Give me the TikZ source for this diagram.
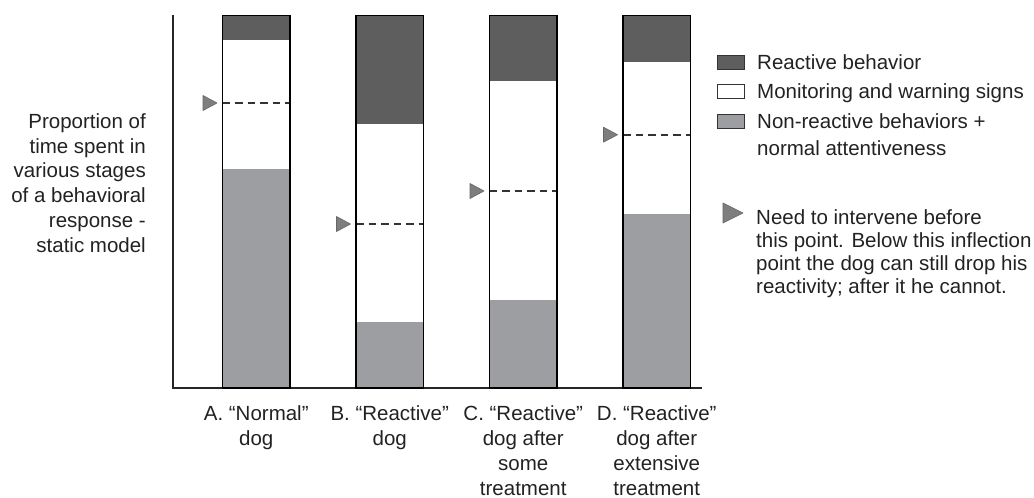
\documentclass[tikz,border=0pt]{standalone}
\usepackage{fontspec}
\setmainfont{Liberation Sans}
\definecolor{darkg}{HTML}{5E5E5E}
\definecolor{lightg}{HTML}{9C9EA2}
\definecolor{trig}{HTML}{7E7E7E}
\definecolor{txt}{HTML}{222222}
\begin{document}
\begin{tikzpicture}[x=1pt,y=-1pt,
  barline/.style={draw=black,line width=1.6pt},
  axisline/.style={draw=black!85,line width=1.5pt},
  dashline/.style={draw=black!80,line width=2.4pt,dash pattern=on 7.5pt off 5pt},
  tri/.style={fill=trig,draw=black!60,line width=0.6pt,line join=round},
  lab/.style={font=\fontsize{20.5}{25}\selectfont,text=txt,inner sep=0pt},
  keybox/.style={line width=1pt,draw=black!80}]
\useasboundingbox (0,0) rectangle (1034,498);
% axes
\draw[axisline] (173,15) -- (173,388) -- (702,388);
% bars
\foreach \xl/\r/\w/\d in {222.5/40/169/103, 356/124.3/321.7/224, 489.5/81/300/191, 623/62.3/214.3/134.7} {
  \fill[darkg] (\xl,15.5) rectangle (\xl+67.5,\r);
  \fill[lightg] (\xl,\w) rectangle (\xl+67.5,388);
  \draw[dashline] (\xl,\d) -- (\xl+67.5,\d);
  \draw[barline] (\xl,15.5) rectangle (\xl+67.5,388);
  \filldraw[tri] (\xl-19.5,\d-7.5) -- (\xl-5.5,\d) -- (\xl-19.5,\d+7.5) -- cycle;
}
% y label
\node[lab,align=right,anchor=north east,font=\fontsize{20.5}{24.8}\selectfont] (ylab) at (146,113.2)
  {Proportion of\\time spent in\\various stages\\of a behavioral\\response -\\static model};
% bar labels
\node[lab,align=center,anchor=north] (la) at (256.25,405.2) {A. “Normal”\\dog};
\node[lab,align=center,anchor=north] (lb) at (389.75,405.2) {B. “Reactive”\\dog};
\node[lab,align=center,anchor=north] (lc) at (523.25,405.2) {C. “Reactive”\\dog after\\some\\treatment};
\node[lab,align=center,anchor=north] (ld) at (656.75,405.2) {D. “Reactive”\\dog after\\extensive\\treatment};
% legend
\filldraw[keybox,fill=darkg] (717.5,55) rectangle (744.5,69);
\filldraw[keybox,fill=white] (717.5,84.5) rectangle (744.5,98.5);
\filldraw[keybox,fill=lightg] (717.5,114) rectangle (744.5,128);
\node[lab,anchor=base west] (k1) at (757,69) {Reactive behavior};
\node[lab,anchor=base west] (k2) at (757,98.5) {Monitoring and warning signs};
\node[lab,anchor=north west,align=left,font=\fontsize{20.5}{27}\selectfont] (k3) at (757,113.1)
  {Non-reactive behaviors +\\normal attentiveness};
\filldraw[tri] (723,203) -- (743,213) -- (723,223) -- cycle;
\node[lab,anchor=north west,align=left,font=\fontsize{20.5}{23}\selectfont] (k4) at (756,209.1)
  {Need to intervene before\\this point. Below this inflection\\point the dog can still drop his\\reactivity; after it he cannot.};
\end{tikzpicture}
\end{document}
